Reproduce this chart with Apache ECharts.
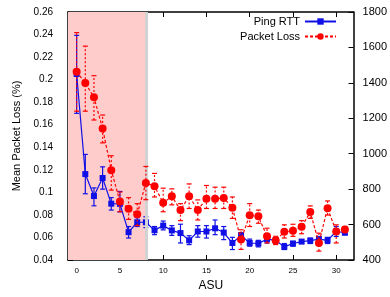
<!DOCTYPE html>
<html>
<head>
<meta charset="utf-8">
<script src="https://cdn.jsdelivr.net/npm/echarts@6/dist/echarts.min.js"></script>
<style>html,body{margin:0;padding:0;background:#fff}#c{width:390px;height:297px}</style>
</head>
<body>
<div id="c"></div>
<script>
const asu = [0,1,2,3,4,5,6,7,8,9,10,11,12,13,14,15,16,17,18,19,20,21,22,23,24,25,26,27,28,29,30,31];
const pingRTT  = [1450,885,761,863,718,717,557,613,613,568,594,567,552,511,561,561,579,555,496,539,496,493,518,511,474,493,504,509,518,511,561,554];
const pingLow  = [1228,774,706,800,682,672,524,589,583,543,570,539,496,487,529,524,543,515,459,505,478,474,496,496,459,478,493,493,500,493,533,543];
const pingHigh = [1668,996,807,926,752,787,589,639,644,589,620,594,602,537,594,594,626,589,528,555,518,511,533,522,493,505,515,524,533,528,589,567];
const lossVal  = [0.207,0.197,0.1843,0.1567,0.1197,0.092,0.0855,0.0805,0.1084,0.1055,0.0907,0.0965,0.0843,0.0965,0.0843,0.0944,0.0944,0.095,0.0863,0.0581,0.0796,0.0787,0.061,0.0572,0.0651,0.0659,0.0694,0.0825,0.0551,0.086,0.0653,0.0671];
const lossLow  = [0.172,0.172,0.1642,0.1439,0.102,0.0828,0.076,0.0705,0.0935,0.0959,0.0828,0.0889,0.0749,0.0857,0.0755,0.0857,0.0857,0.0857,0.0769,0.0494,0.0697,0.0726,0.0551,0.0537,0.0595,0.061,0.0633,0.0769,0.0479,0.0799,0.0551,0.0644];
const lossHigh = [0.2417,0.2297,0.2035,0.1686,0.1325,0.1003,0.0953,0.09,0.123,0.1168,0.1037,0.1031,0.09,0.1075,0.0933,0.1061,0.1046,0.1046,0.0959,0.0668,0.09,0.0843,0.0682,0.061,0.0712,0.0717,0.0749,0.088,0.0638,0.0924,0.0712,0.0697];
const xTicks = [0,5,10,15,20,25,30];
const shadeRange = [-1, 8];

const FONT = '"Liberation Sans", Arial, sans-serif';
const BLUE = '#1010e6';
const RED = '#ff0000';

function errBars(color, dash) {
  return function (params, api) {
    const x = api.value(0), lo = api.value(1), hi = api.value(2);
    const a = api.coord([x, lo]), b = api.coord([x, hi]);
    const w = 2.5;
    const st = {stroke: color, lineWidth: 1.2, lineDash: dash, fill: null};
    return {type: 'group', children: [
      {type: 'line', shape: {x1: a[0], y1: a[1], x2: b[0], y2: b[1]}, style: st},
      {type: 'line', shape: {x1: a[0]-w, y1: a[1], x2: a[0]+w, y2: a[1]}, style: {stroke: color, lineWidth: 1.2}},
      {type: 'line', shape: {x1: b[0]-w, y1: b[1], x2: b[0]+w, y2: b[1]}, style: {stroke: color, lineWidth: 1.2}}
    ]};
  };
}

const chart = echarts.init(document.getElementById('c'), null, {renderer: 'canvas'});
chart.setOption({
  animation: false,
  backgroundColor: '#fff',
  grid: {left: 68, right: 35, top: 12, bottom: 33},
  legend: {
    orient: 'vertical', right: 48, top: 11, align: 'right',
    itemWidth: 31, itemHeight: 8, itemGap: 4,
    textStyle: {fontFamily: FONT, fontSize: 11, color: '#000'},
    data: ['Ping RTT', 'Packet Loss']
  },
  xAxis: [{
    type: 'value', min: -1, max: 32, position: 'bottom',
    name: 'ASU', nameLocation: 'middle', nameGap: 20,
    nameTextStyle: {fontFamily: FONT, fontSize: 12, color: '#000'},
    axisLine: {show: true, onZero: false, lineStyle: {color: '#000', width: 1.5}},
    axisTick: {show: true, inside: true, length: 5, customValues: xTicks, lineStyle: {color: '#000'}},
    axisLabel: {show: true, customValues: xTicks, margin: 7, fontFamily: FONT, fontSize: 8, color: '#000'},
    splitLine: {show: false}
  }, {
    type: 'value', min: -1, max: 32, position: 'top',
    axisLine: {show: true, onZero: false, lineStyle: {color: '#000', width: 1.5}},
    axisTick: {show: true, inside: true, length: 5, customValues: xTicks, lineStyle: {color: '#000'}},
    axisLabel: {show: false},
    splitLine: {show: false}
  }],
  yAxis: [{
    type: 'value', min: 0.04, max: 0.26, interval: 0.02, position: 'left',
    name: 'Mean Packet Loss (%)', nameLocation: 'middle', nameGap: 42,
    nameTextStyle: {fontFamily: FONT, fontSize: 11, color: '#000'},
    axisLine: {show: true, onZero: false, lineStyle: {color: '#000', width: 1.5}},
    axisTick: {show: true, inside: true, length: 5, lineStyle: {color: '#000'}},
    axisLabel: {margin: 15, fontFamily: FONT, fontSize: 10, color: '#000',
      formatter: v => String(+v.toFixed(2))},
    splitLine: {show: false}
  }, {
    type: 'value', min: 400, max: 1800, interval: 200, position: 'right',
    axisLine: {show: true, onZero: false, lineStyle: {color: '#000', width: 1.5}},
    axisTick: {show: true, inside: true, length: 5, lineStyle: {color: '#000'}},
    axisLabel: {margin: 9, fontFamily: FONT, fontSize: 11, color: '#000',
      formatter: v => String(v)},
    splitLine: {show: false}
  }],
  series: [
    {
      name: 'shade', type: 'line', data: [], z: 0, silent: true,
      markArea: {silent: true, itemStyle: {color: '#ffcccc'},
        data: [[{xAxis: shadeRange[0]}, {xAxis: shadeRange[1]}]]},
      markLine: {silent: true, symbol: ['none', 'none'], label: {show: false},
        lineStyle: {color: '#d2d2d2', width: 3, type: 'solid'},
        data: [{xAxis: shadeRange[1]}]}
    },
    {
      name: 'rttErr', type: 'custom', yAxisIndex: 1, z: 3,
      renderItem: errBars(BLUE, null),
      data: asu.map((x, i) => [x, pingLow[i], pingHigh[i]])
    },
    {
      name: 'Ping RTT', type: 'line', yAxisIndex: 1, z: 4,
      data: asu.map((x, i) => [x, pingRTT[i]]),
      symbol: 'rect', symbolSize: 6,
      itemStyle: {color: BLUE},
      lineStyle: {color: BLUE, width: 1.2}
    },
    {
      name: 'lossErr', type: 'custom', yAxisIndex: 0, z: 5,
      renderItem: errBars(RED, [2, 2]),
      data: asu.map((x, i) => [x, lossLow[i], lossHigh[i]])
    },
    {
      name: 'Packet Loss', type: 'line', yAxisIndex: 0, z: 6,
      data: asu.map((x, i) => [x, lossVal[i]]),
      symbol: 'circle', symbolSize: 8,
      itemStyle: {color: RED},
      lineStyle: {color: RED, width: 1.2, type: [3, 2]}
    }
  ]
});
</script>
</body>
</html>
